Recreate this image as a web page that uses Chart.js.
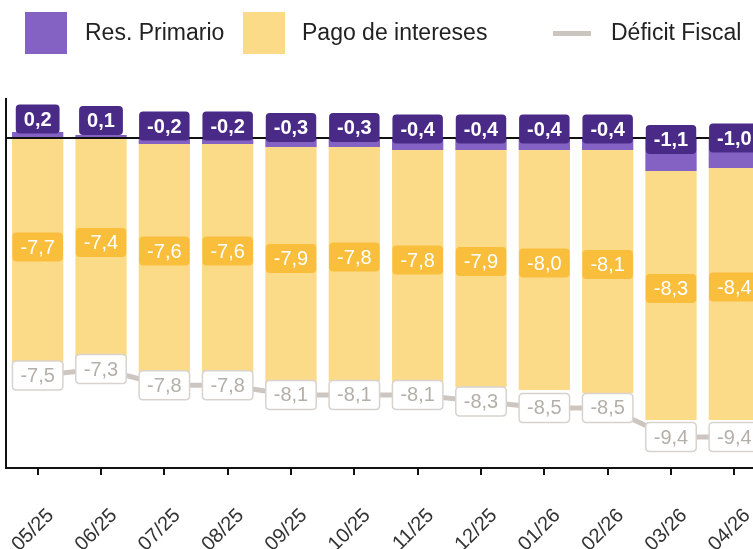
<!DOCTYPE html>
<html>
<head>
<meta charset="utf-8">
<script src="https://cdn.jsdelivr.net/npm/chart.js@4"></script>
<style>
  html, body { margin: 0; padding: 0; background: #ffffff; overflow: hidden; width: 753px; height: 549px; }
  #wrap { position: relative; width: 753px; height: 549px; overflow: hidden; }
  canvas { position: absolute; left: 0; top: 0; }
  .leg { position: absolute; font-family: "Liberation Sans", Arial, sans-serif; font-size: 23px; color: #222; line-height: 23px; white-space: nowrap; }
  .sq { position: absolute; width: 42px; height: 42px; }
  .ln { position: absolute; width: 38px; height: 5px; }
</style>
</head>
<body>
<div id="wrap">
  <canvas id="c" width="770" height="549"></canvas>
  <div class="sq" style="left:25px;top:12px;background:#8462C4"></div>
  <div class="leg" style="left:85px;top:21px">Res. Primario</div>
  <div class="sq" style="left:243px;top:12px;background:#FCDB88"></div>
  <div class="leg" style="left:302px;top:21px">Pago de intereses</div>
  <div class="ln" style="left:553px;top:31px;background:#CBC5BF"></div>
  <div class="leg" style="left:611px;top:21px">Déficit Fiscal</div>
</div>
<script>
const categories = ["05/25","06/25","07/25","08/25","09/25","10/25","11/25","12/25","01/26","02/26","03/26","04/26"];
const resPrimario = [0.2, 0.1, -0.2, -0.2, -0.3, -0.3, -0.4, -0.4, -0.4, -0.4, -1.1, -1.0];
const pagoIntereses = [-7.7, -7.4, -7.6, -7.6, -7.9, -7.8, -7.8, -7.9, -8.0, -8.1, -8.3, -8.4];
const deficitFiscal = [-7.5, -7.3, -7.8, -7.8, -8.1, -8.1, -8.1, -8.3, -8.5, -8.5, -9.4, -9.4];

const FONT = '"Liberation Sans", Arial, sans-serif';
const fmt = v => v.toFixed(1).replace('.', ',');

function roundRect(ctx, x, y, w, h, r) {
  ctx.beginPath();
  ctx.moveTo(x + r, y);
  ctx.lineTo(x + w - r, y);
  ctx.quadraticCurveTo(x + w, y, x + w, y + r);
  ctx.lineTo(x + w, y + h - r);
  ctx.quadraticCurveTo(x + w, y + h, x + w - r, y + h);
  ctx.lineTo(x + r, y + h);
  ctx.quadraticCurveTo(x, y + h, x, y + h - r);
  ctx.lineTo(x, y + r);
  ctx.quadraticCurveTo(x, y, x + r, y);
  ctx.closePath();
}

function drawBox(ctx, text, cx, cy, opt) {
  ctx.save();
  ctx.font = opt.font;
  const tw = ctx.measureText(text).width;
  const w = tw + 16, h = 29;
  roundRect(ctx, cx - w / 2, cy - h / 2, w, h, 4);
  ctx.fillStyle = opt.bg;
  ctx.fill();
  if (opt.border) {
    ctx.lineWidth = 1.5;
    ctx.strokeStyle = opt.border;
    ctx.stroke();
  }
  ctx.fillStyle = opt.color;
  ctx.textAlign = 'center';
  ctx.textBaseline = 'middle';
  ctx.fillText(text, cx, cy + 1);
  ctx.restore();
}

const labelPlugin = {
  id: 'labels',
  afterDraw(chart) {
    const ctx = chart.ctx;
    chart.getDatasetMeta(1).data.forEach((bar, i) => {
      const mid = (bar.y + bar.base) / 2;
      drawBox(ctx, fmt(pagoIntereses[i]), bar.x, mid - 7,
        { font: '20px ' + FONT, bg: '#F8BE3C', color: '#ffffff' });
    });
    chart.getDatasetMeta(0).data.forEach((bar, i) => {
      const mid = (bar.y + bar.base) / 2;
      drawBox(ctx, fmt(resPrimario[i]), bar.x, mid - 15.5,
        { font: 'bold 20px ' + FONT, bg: '#4A2A87', color: '#ffffff' });
    });
    chart.getDatasetMeta(2).data.forEach((pt, i) => {
      drawBox(ctx, fmt(deficitFiscal[i]), pt.x, pt.y,
        { font: '20px ' + FONT, bg: '#ffffff', color: '#B4AFA9', border: '#D8D3CE' });
    });
  }
};

new Chart(document.getElementById('c'), {
  type: 'bar',
  data: {
    labels: categories,
    datasets: [
      { label: 'Res. Primario', data: resPrimario, backgroundColor: '#8462C4', stack: 's', yAxisID: 'y',
        barPercentage: 0.81, categoryPercentage: 1.0 },
      { label: 'Pago de intereses', data: pagoIntereses, backgroundColor: '#FCDB88', stack: 's', yAxisID: 'y',
        barPercentage: 0.81, categoryPercentage: 1.0 },
      { type: 'line', label: 'Déficit Fiscal', data: deficitFiscal, yAxisID: 'y2', order: -1,
        borderColor: '#CDC6C0', borderWidth: 5, pointRadius: 0, tension: 0, fill: false }
    ]
  },
  options: {
    responsive: false,
    animation: false,
    devicePixelRatio: 1,
    layout: { padding: { left: 6, top: 99, right: 4, bottom: 0 } },
    plugins: { legend: { display: false }, tooltip: { enabled: false } },
    scales: {
      x: {
        stacked: true,
        offset: true,
        grid: { display: true, drawOnChartArea: false, drawTicks: true, tickLength: 7, color: '#111', lineWidth: 2, offset: false },
        border: { display: true, color: '#111', width: 2 },
        ticks: {
          color: '#333', font: { family: FONT, size: 20 },
          maxRotation: 45, minRotation: 45, autoSkip: false,
          padding: 29, labelOffset: 13
        },
        afterFit(scale) { scale.height = 81; scale.paddingLeft = 0; scale.paddingRight = 0; }
      },
      y: {
        stacked: true,
        min: -11, max: 1.3,
        z: 1,
        ticks: { display: false, stepSize: 1 },
        grid: {
          display: true, drawTicks: false,
          color: c => (c.tick && c.tick.value === 0) ? '#111' : 'rgba(0,0,0,0)',
          lineWidth: 2
        },
        border: { display: true, color: '#111', width: 2 },
        afterFit(scale) { scale.width = 0; scale.paddingTop = 0; scale.paddingBottom = 0; }
      },
      y2: {
        display: false,
        min: -10.355, max: 1.034
      }
    }
  },
  plugins: [labelPlugin]
});
</script>
</body>
</html>
